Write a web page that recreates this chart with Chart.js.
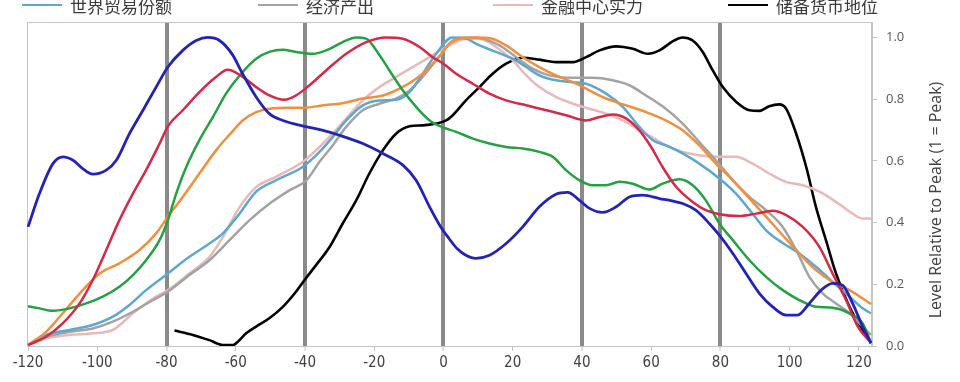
<!DOCTYPE html>
<html>
<head>
<meta charset="utf-8">
<script src="https://cdn.jsdelivr.net/npm/chart.js@4/dist/chart.umd.min.js"></script>
<style>
  html, body { margin: 0; padding: 0; background: #fff; overflow: hidden; }
  #wrap { position: relative; width: 960px; height: 382px; }
  #c { position: absolute; left: 0; top: 0; }
  #legend { position: absolute; left: 0; top: -5px; width: 960px; height: 20px; }
  .item { position: absolute; top: 0; height: 20px; display: flex; align-items: center;
          font-family: "Noto Sans CJK SC", sans-serif; font-size: 17px; color: #3a3a3a; white-space: nowrap; }
  .swatch { display: inline-block; width: 40px; height: 2px; margin-right: 8px; }
</style>
</head>
<body>
<div id="wrap">
  <canvas id="c" width="960" height="382"></canvas>
  <div id="legend"></div>
</div>
<script>
// ---------- data ----------
const seriesNames = ['教育', '创新和技术', '竞争力', '军事实力', '世界贸易份额', '经济产出', '金融中心实力', '储备货币地位'];
const legendShown = ['世界贸易份额', '经济产出', '金融中心实力', '储备货币地位'];
const xTickStep = 20;
const refLines = [-80, -40, 0, 40, 80];

const blueX = [-120, -116.7, -112.8, -109.9, -107, -104.2, -101.3, -97.4, -94.5, -90.7, -86.8, -83, -79.6, -75.3, -71.4, -68.1, -64.7, -61, -58, -54.1, -50.3, -46.4, -40.1, -34.8, -30, -23.3, -17.5, -11.7, -7.9, -4, -1, 1.5, 4, 6.5, 9.4, 13.3, 18.1, 22.9, 27.7, 32.5, 35.9, 39.3, 42.2, 46, 49.9, 53.7, 57.6, 62.4, 66, 69.1, 72.9, 76.8, 79.7, 83.6, 87.4, 91.3, 95.1, 99, 102.3, 105.7, 109.1, 112.4, 115.3, 118.2, 121.1, 123.5];
const blueY = [0.386, 0.494, 0.591, 0.613, 0.602, 0.575, 0.557, 0.57, 0.602, 0.688, 0.764, 0.839, 0.904, 0.958, 0.99, 1.0, 0.99, 0.945, 0.882, 0.807, 0.753, 0.731, 0.712, 0.699, 0.683, 0.656, 0.624, 0.586, 0.537, 0.451, 0.39, 0.35, 0.315, 0.294, 0.284, 0.294, 0.332, 0.386, 0.451, 0.492, 0.498, 0.472, 0.446, 0.433, 0.451, 0.483, 0.489, 0.478, 0.47, 0.462, 0.44, 0.397, 0.359, 0.3, 0.235, 0.17, 0.127, 0.1, 0.1, 0.138, 0.181, 0.203, 0.197, 0.138, 0.063, 0.01];

const redX = [-120, -114.8, -110, -105.1, -101.3, -97.4, -93.6, -89.7, -85.9, -82, -79.6, -75.3, -70.5, -65.7, -62.3, -58, -54.1, -50.3, -45.9, -42.6, -38.7, -33.9, -28.1, -22.3, -16.6, -11.7, -6.9, -3.1, 0, 3.7, 8.5, 13.3, 18.1, 23.9, 29.7, 35.4, 41.2, 45.1, 48.9, 52.8, 56.6, 60, 63.3, 67.2, 72, 75.8, 79.7, 85.5, 90.3, 95.1, 99, 103.8, 108.6, 112.4, 116.3, 119.7, 123.5];
const redY = [0.003, 0.03, 0.073, 0.138, 0.214, 0.311, 0.408, 0.494, 0.57, 0.656, 0.712, 0.764, 0.823, 0.872, 0.895, 0.872, 0.839, 0.812, 0.798, 0.812, 0.845, 0.893, 0.947, 0.985, 1.0, 0.996, 0.969, 0.936, 0.915, 0.882, 0.85, 0.818, 0.796, 0.78, 0.764, 0.748, 0.731, 0.742, 0.75, 0.737, 0.699, 0.645, 0.58, 0.516, 0.467, 0.44, 0.427, 0.421, 0.429, 0.438, 0.424, 0.386, 0.321, 0.235, 0.149, 0.063, 0.01];

const greenX = [-120, -116.7, -112.8, -108, -103.2, -98.4, -93.6, -89.7, -85.9, -82, -79.6, -77.2, -74.3, -70.5, -66.6, -62.8, -59, -54.1, -50.3, -46.4, -42.6, -37.7, -32.9, -29.1, -25.2, -22.3, -19.4, -15.6, -11.7, -7.9, -4, -0.5, 3.7, 8.5, 13.3, 18.1, 22.9, 27.7, 31.6, 35.4, 39.3, 43.1, 47, 50.8, 54.7, 59.5, 63.3, 68.2, 72, 75.8, 79.7, 83.6, 88.4, 93.2, 98, 102.8, 107.6, 112.4, 117.3, 121.1, 123.5];
const greenY = [0.129, 0.122, 0.114, 0.122, 0.138, 0.16, 0.192, 0.23, 0.278, 0.343, 0.408, 0.494, 0.58, 0.667, 0.742, 0.818, 0.875, 0.931, 0.953, 0.96, 0.953, 0.947, 0.963, 0.985, 1.0, 0.996, 0.958, 0.893, 0.828, 0.775, 0.731, 0.71, 0.694, 0.672, 0.656, 0.645, 0.64, 0.629, 0.613, 0.57, 0.537, 0.521, 0.521, 0.532, 0.526, 0.507, 0.526, 0.54, 0.521, 0.472, 0.397, 0.343, 0.278, 0.224, 0.181, 0.149, 0.127, 0.124, 0.106, 0.073, 0.01];

const orangeX = [-120, -114.8, -110, -105.1, -99.3, -93.6, -87.8, -83, -79.6, -75.3, -70.5, -65.7, -61, -58, -54.1, -50.3, -44.5, -40.1, -34.8, -29.1, -23.3, -17.5, -12.7, -7.9, -4, -0.7, 1.7, 5.6, 9.4, 13.3, 18.1, 22.9, 27.7, 32.5, 37.4, 41.2, 47, 52.8, 58.5, 63.5, 69.1, 73.9, 78.7, 83.6, 88.4, 93.2, 98, 102.8, 107.6, 112.4, 117.3, 121.1, 123.5];
const orangeY = [0.003, 0.046, 0.106, 0.17, 0.235, 0.268, 0.311, 0.365, 0.419, 0.483, 0.559, 0.634, 0.695, 0.731, 0.758, 0.769, 0.772, 0.772, 0.78, 0.787, 0.802, 0.812, 0.834, 0.866, 0.904, 0.945, 0.98, 0.998, 1.0, 0.998, 0.974, 0.936, 0.904, 0.877, 0.855, 0.834, 0.802, 0.78, 0.758, 0.735, 0.699, 0.65, 0.591, 0.537, 0.478, 0.419, 0.359, 0.3, 0.246, 0.208, 0.181, 0.154, 0.136];

const tradeX = [-120, -114.8, -108, -101.3, -95.5, -90.7, -85.9, -79.6, -73.4, -67.6, -63.7, -58.9, -54.1, -48.4, -40.7, -35.8, -32, -28.1, -23.3, -18.5, -13.7, -9.8, -6, -2.1, 2.5, 6.5, 10.4, 15.2, 20, 23.9, 27.7, 32.5, 37.4, 41.2, 47, 51.8, 56.6, 60.5, 64.3, 69.1, 73.9, 79.7, 84.5, 89.3, 93.2, 98, 102.8, 107.6, 112.4, 117.3, 121.1, 123.5];
const tradeY = [0.003, 0.036, 0.052, 0.068, 0.095, 0.133, 0.181, 0.235, 0.289, 0.332, 0.365, 0.429, 0.5, 0.537, 0.58, 0.629, 0.677, 0.731, 0.78, 0.796, 0.798, 0.823, 0.882, 0.947, 1.0, 0.996, 0.974, 0.953, 0.931, 0.904, 0.877, 0.861, 0.855, 0.85, 0.818, 0.775, 0.71, 0.667, 0.65, 0.624, 0.591, 0.543, 0.494, 0.429, 0.375, 0.334, 0.3, 0.257, 0.208, 0.16, 0.122, 0.106];

const outputX = [-120, -114.8, -108, -101.3, -95.5, -89.7, -83.9, -79.6, -73.4, -67.6, -61.8, -56, -50.2, -44.4, -39.6, -35.8, -32, -28.1, -23.3, -18.5, -13.7, -9.8, -6, -2.1, 2.7, 6.5, 11.4, 16.2, 21, 25.8, 30.6, 37.4, 43.1, 48.9, 53.7, 58.5, 63.5, 69.1, 73.9, 78.7, 83.6, 88.4, 93.2, 98, 101.9, 105.7, 109.6, 113.4, 117.3, 121.1, 123.5];
const outputY = [0.003, 0.03, 0.046, 0.057, 0.079, 0.111, 0.149, 0.176, 0.23, 0.278, 0.343, 0.408, 0.462, 0.505, 0.537, 0.597, 0.65, 0.71, 0.764, 0.785, 0.802, 0.828, 0.872, 0.926, 0.99, 1.0, 0.996, 0.974, 0.936, 0.899, 0.877, 0.869, 0.869, 0.861, 0.845, 0.812, 0.775, 0.721, 0.661, 0.602, 0.537, 0.483, 0.44, 0.386, 0.311, 0.224, 0.17, 0.138, 0.106, 0.063, 0.036];

const financeX = [-120, -114.8, -108, -101.3, -95.5, -89.7, -83.9, -79.6, -73.4, -67.6, -63.7, -58.9, -54.1, -48.4, -40.7, -35.8, -32, -28.1, -23.3, -18.5, -13.7, -8.9, -4, -0.7, 2.7, 6.5, 10.4, 15.2, 20, 23.9, 27.7, 32.5, 37.4, 42.2, 47, 51.8, 56.6, 60.5, 64.3, 69.1, 73.9, 79.7, 84.5, 89.3, 94.1, 98.9, 103.8, 108.6, 113.4, 118.2, 121.1, 123.5];
const financeY = [0.003, 0.025, 0.036, 0.041, 0.052, 0.106, 0.154, 0.181, 0.235, 0.289, 0.354, 0.45, 0.515, 0.548, 0.596, 0.645, 0.688, 0.737, 0.796, 0.839, 0.872, 0.904, 0.936, 0.96, 0.98, 0.996, 0.996, 0.969, 0.926, 0.877, 0.839, 0.807, 0.785, 0.769, 0.753, 0.731, 0.699, 0.675, 0.65, 0.629, 0.618, 0.613, 0.613, 0.591, 0.559, 0.532, 0.521, 0.5, 0.467, 0.429, 0.413, 0.413];

const reserveX = [-77.7, -72.4, -67.6, -63.7, -60.8, -59.4, -57, -54.1, -50.3, -46.4, -42.6, -40.1, -36.8, -32.9, -29.1, -25.2, -21.4, -17.5, -13.7, -9.8, -6, -2.1, 0.8, 2.7, 6.5, 10.4, 14.2, 18.1, 22.9, 27.7, 32.5, 37.4, 41.2, 45.1, 49.9, 54.7, 59, 62.4, 66.3, 69.1, 72, 74.9, 77.8, 80.7, 84.6, 88.4, 91.3, 94.1, 97, 99, 101.9, 104.8, 107.6, 110.5, 113.4, 117.3, 121.1, 123.5];
const reserveY = [0.05, 0.036, 0.019, 0.003, 0.003, 0.014, 0.041, 0.063, 0.09, 0.127, 0.176, 0.214, 0.262, 0.321, 0.397, 0.472, 0.559, 0.634, 0.688, 0.712, 0.715, 0.721, 0.731, 0.748, 0.796, 0.839, 0.882, 0.915, 0.934, 0.928, 0.92, 0.92, 0.936, 0.958, 0.971, 0.963, 0.947, 0.958, 0.988, 1.0, 0.99, 0.953, 0.893, 0.839, 0.791, 0.764, 0.762, 0.777, 0.783, 0.769, 0.688, 0.58, 0.451, 0.343, 0.235, 0.127, 0.052, 0.009];

const seriesX = [blueX, redX, greenX, orangeX, tradeX, outputX, financeX, reserveX];
const seriesY = [blueY, redY, greenY, orangeY, tradeY, outputY, financeY, reserveY];
const seriesColors = ['#2323b4', '#d42a48', '#25a043', '#f28f3f', '#5ea7d0', '#a3a3a3', '#e9b9b9', '#000000'];
const seriesWidths = [2.8, 2.5, 2.5, 2.5, 2.5, 2.5, 2.5, 2.6];

// ---------- chart ----------
const datasets = seriesNames.map((name, i) => ({
  label: name,
  data: seriesX[i].map((x, j) => ({ x: x, y: seriesY[i][j] })),
  borderColor: seriesColors[i],
  backgroundColor: seriesColors[i],
  borderWidth: seriesWidths[i],
  pointRadius: 0,
  fill: false,
  cubicInterpolationMode: 'monotone'
}));

const boxPlugin = {
  id: 'box',
  beforeDatasetsDraw(chart) {
    const a = chart.chartArea, ctx = chart.ctx;
    ctx.save();
    ctx.strokeStyle = '#c4c4c4';
    ctx.lineWidth = 1;
    ctx.strokeRect(a.left + 0.5, a.top + 0.5, a.right - a.left - 1, a.bottom - a.top);
    ctx.restore();
  }
};
const yTitlePlugin = {
  id: 'ytitle',
  afterDraw(chart) {
    const ctx = chart.ctx;
    ctx.save();
    ctx.translate(936, 200);
    ctx.rotate(-Math.PI / 2);
    ctx.fillStyle = '#404040';
    ctx.font = '16px "Open Sans", sans-serif';
    ctx.textAlign = 'center';
    ctx.textBaseline = 'middle';
    ctx.fillText('Level Relative to Peak (1 = Peak)', 0, 0);
    ctx.restore();
  }
};

new Chart(document.getElementById('c'), {
  type: 'line',
  data: { datasets: datasets },
  options: {
    responsive: false,
    animation: false,
    layout: { padding: { left: 27, top: 22, right: 0, bottom: 0 } },
    plugins: { legend: { display: false }, tooltip: { enabled: false } },
    scales: {
      x: {
        type: 'linear',
        min: -120.3,
        max: 123.8,
        afterFit(s) { s.height = 36; },
        border: { display: true, color: '#c4c4c4', width: 1 },
        grid: {
          drawOnChartArea: true,
          color: (c) => (c.tick && refLines.includes(c.tick.value)) ? '#8a8a8a' : 'rgba(0,0,0,0)',
          lineWidth: (c) => (c.tick && refLines.includes(c.tick.value)) ? 4 : 1,
          tickColor: '#c4c4c4',
          tickWidth: 1,
          tickLength: 5
        },
        ticks: {
          stepSize: xTickStep,
          includeBounds: false,
          autoSkip: false,
          maxRotation: 0,
          padding: 3,
          color: '#404040',
          font: { family: '"Liberation Sans Narrow", "DejaVu Sans Condensed", "Open Sans", sans-serif', size: 15 },
          callback: (v) => String(v)
        }
      },
      y: {
        position: 'right',
        min: 0,
        max: 1.05,
        afterFit(s) { s.width = 88; },
        border: { display: true, color: '#c4c4c4', width: 1 },
        grid: {
          drawOnChartArea: false,
          tickColor: '#c4c4c4',
          tickLength: 5
        },
        ticks: {
          stepSize: 0.2,
          includeBounds: false,
          padding: 9,
          color: '#595959',
          font: { family: '"Open Sans", sans-serif', size: 13 },
          callback: (v) => Number(v).toFixed(1)
        }
      }
    }
  },
  plugins: [boxPlugin, yTitlePlugin]
});

// ---------- legend (visible row of the reference) ----------
const legendLeft = [22, 258, 493, 728];
const legendEl = document.getElementById('legend');
legendShown.forEach((name, k) => {
  const i = seriesNames.indexOf(name);
  const item = document.createElement('div');
  item.className = 'item';
  item.style.left = legendLeft[k] + 'px';
  const sw = document.createElement('span');
  sw.className = 'swatch';
  sw.style.background = seriesColors[i];
  const tx = document.createElement('span');
  tx.textContent = name;
  item.appendChild(sw);
  item.appendChild(tx);
  legendEl.appendChild(item);
});
</script>
</body>
</html>
